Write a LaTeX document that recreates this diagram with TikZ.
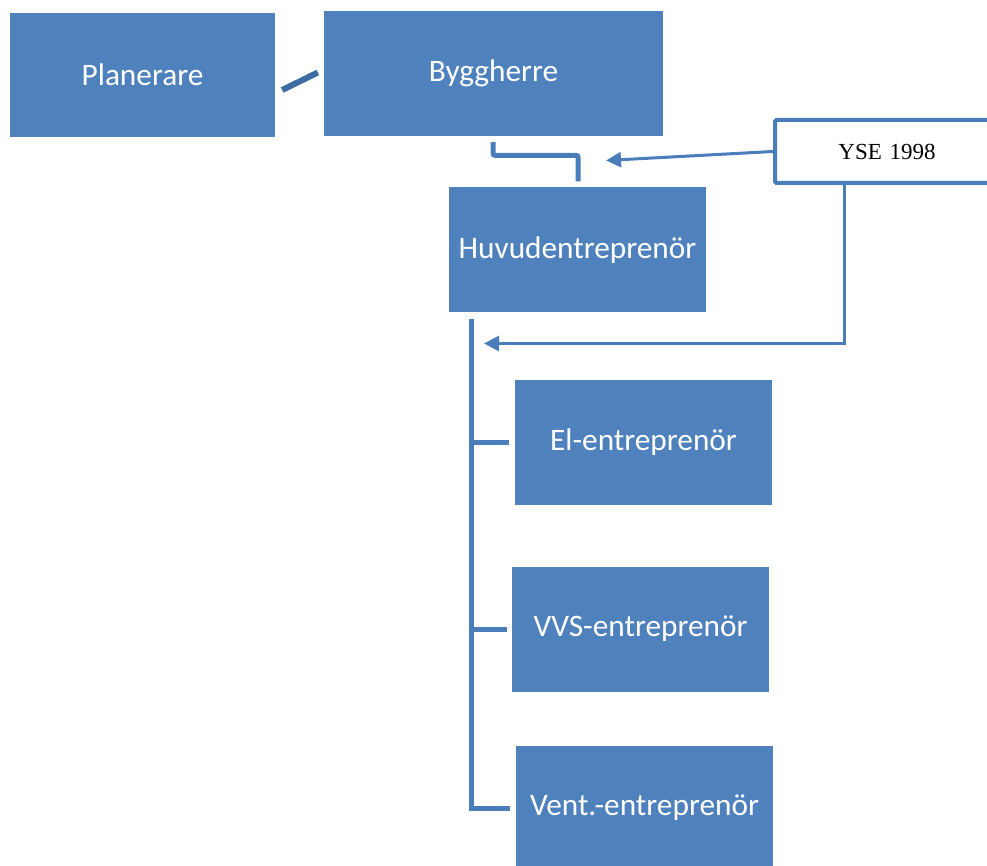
\documentclass[tikz,border=0pt]{standalone}
\usepackage{fontspec}
\setmainfont{Carlito}
\newfontfamily\serifyse{Liberation Serif}
\usetikzlibrary{calc,arrows.meta}
\definecolor{boxblue}{HTML}{4F81BD}
\definecolor{linkblue}{HTML}{4A7EBB}
\definecolor{darklink}{HTML}{3D6CA3}
\tikzset{
  orgbox/.style={rectangle, fill=boxblue, draw=none, text=white,
    font=\fontsize{31.3}{37}\selectfont, inner sep=0pt},
  notebox/.style={rectangle, fill=white, draw=linkblue, line width=4pt,
    rounded corners=1.5pt, font=\serifyse\fontsize{23}{28}\selectfont, inner sep=0pt},
  link/.style={draw=linkblue, line width=5pt},
  pointer/.style={draw=linkblue, line width=3pt, -{Triangle[length=15pt,width=15pt]}},
}
\begin{document}
\begin{tikzpicture}[x=1pt,y=-1pt]
\useasboundingbox (0,0) rectangle (987,866);

% organisation boxes
\node[orgbox, minimum width=265pt, minimum height=124pt] (planerare) at (142.5,75) {Planerare};
\node[orgbox, minimum width=339pt, minimum height=125pt] (byggherre) at (493.5,73.5) {Byggherre};
\node[orgbox, minimum width=257pt, minimum height=125pt] (huvud) at (577.5,250) {Huvudentreprenör};
\node[orgbox, minimum width=257pt, minimum height=125pt] (el) at (643.5,442) {El-entreprenör};
\node[orgbox, minimum width=257pt, minimum height=125pt] (vvs) at (640.5,629) {VVS-entreprenör};
\node[orgbox, minimum width=257pt, minimum height=125pt] (vent) at (644.5,808) {Vent.-entreprenör};

% contract note
\node[notebox, minimum width=224pt, minimum height=63pt, text width=224pt, align=center] (yse) at (887,151.5) {YSE 1998};

% planner to client
\draw[draw=darklink, line width=6pt] ($(planerare.east)+(7,15)$) -- ($(byggherre.west)+(-6,-1)$);

% client to main contractor
\draw[link, rounded corners=2pt]
  ($(byggherre.south)+(-0.5,6)$) |- ($(huvud.north)+(0.5,-32)$) -- ($(huvud.north)+(0.5,-6)$);

% contract references
\coordinate (ysetip1) at (606,160.5);
\draw[pointer] (yse.west) -- (ysetip1);
\coordinate (ysetip2) at (484,343.5);
\draw[pointer, line cap=round] ($(yse.south west)+(71,0)$) |- (ysetip2);

% main contractor to subcontractors
\draw[link] ($(huvud.south west)+(23,6)$) |- ($(vent.west)+(-6,0)$);
\draw[link] ($(el.west)+(-43,0)$) -- ($(el.west)+(-6,0)$);
\draw[link] ($(vvs.west)+(-40,0)$) -- ($(vvs.west)+(-5,0)$);
\end{tikzpicture}
\end{document}
